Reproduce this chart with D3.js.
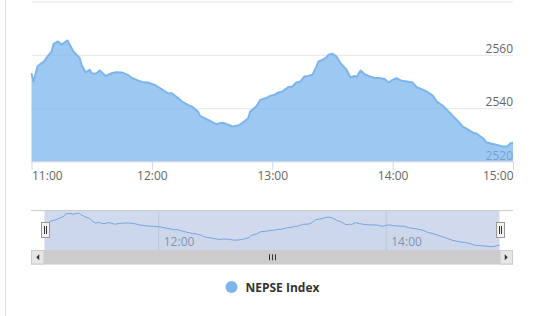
<!DOCTYPE html>
<html>
<head>
<meta charset="utf-8">
<script src="https://cdn.jsdelivr.net/npm/d3@7/dist/d3.min.js"></script>
<style>
  body { margin: 0; background: #fff; }
  svg text { font-family: "Open Sans", sans-serif; }
</style>
</head>
<body>
<div id="chart"></div>
<script>
const seriesName = "NEPSE Index";

const times = [
  "11:00","11:01","11:03","11:05","11:06","11:08","11:10","11:11","11:13","11:14",
  "11:15","11:16","11:18","11:19","11:21","11:24","11:25","11:27","11:29","11:30",
  "11:32","11:34","11:37","11:40","11:42","11:45","11:48","11:50","11:53","11:55",
  "11:58","12:00","12:02","12:05","12:08","12:10","12:13","12:15","12:18","12:20",
  "12:23","12:24","12:27","12:29","12:32","12:34","12:36","12:39","12:40","12:43",
  "12:45","12:48","12:49","12:52","12:54","12:57","12:59","13:01","13:03","13:05",
  "13:08","13:10","13:12","13:14","13:16","13:18","13:20","13:22","13:23","13:25",
  "13:27","13:28","13:30","13:32","13:34","13:37","13:39","13:41","13:42","13:44",
  "13:46","13:48","13:51","13:53","13:56","13:58","14:00","14:02","14:04","14:07",
  "14:10","14:12","14:15","14:17","14:20","14:22","14:25","14:27","14:30","14:32",
  "14:35","14:37","14:40","14:42","14:45","14:47","14:50","14:52","14:55","14:57",
  "14:59","15:00"
];

const values = [
  2553.1,2550.0,2555.6,2556.9,2557.3,2559.4,2561.2,2564.1,2565.0,2564.6,
  2563.8,2564.4,2565.4,2563.8,2561.2,2558.8,2556.2,2553.4,2554.4,2553.1,
  2552.9,2554.1,2552.1,2553.1,2553.5,2553.4,2552.5,2551.3,2550.4,2549.8,
  2549.6,2549.1,2548.5,2547.1,2545.6,2545.6,2543.8,2542.5,2541.2,2540.6,
  2538.7,2537.1,2536.0,2535.2,2534.0,2534.4,2534.4,2533.5,2533.1,2533.5,
  2534.4,2536.2,2538.7,2540.6,2543.1,2543.8,2544.6,2545.0,2545.9,2546.2,
  2547.9,2548.1,2549.6,2550.0,2551.9,2552.1,2552.5,2555.6,2557.5,2558.1,
  2559.1,2560.0,2560.4,2559.4,2556.9,2554.4,2551.5,2552.1,2551.6,2554.1,
  2552.8,2552.1,2551.3,2551.3,2550.9,2549.6,2550.6,2551.3,2550.4,2550.0,
  2549.6,2547.9,2546.9,2546.2,2544.7,2542.5,2540.9,2539.4,2537.1,2535.6,
  2533.1,2532.2,2530.8,2530.4,2528.7,2527.1,2526.6,2526.2,2525.6,2525.6,
  2526.9,2527.1
];

const xTickLabels = ["11:00","12:00","13:00","14:00","15:00"];
const yTicks = [2520, 2540, 2560, 2580];
const navTickLabels = ["12:00","14:00"];

const parseTime = d3.timeParse("%H:%M");
const fmt = d3.timeFormat("%H:%M");
const data = times.map((t, i) => ({ t: parseTime(t), v: values[i] }));

const W = 535, H = 316;
const plot = { left: 31.5, right: 513, top: 1.5, bottom: 161.5 };
const nav = { left: 31, right: 513, top: 210.5, bottom: 250, maskL: 44.5, maskR: 499.5 };
const blue = "#7cb5ec";

const svg = d3.select("#chart").append("svg")
  .attr("width", W)
  .attr("height", H);

// page border on the left
svg.append("line")
  .attr("x1", 5.5).attr("x2", 5.5).attr("y1", 0).attr("y2", H)
  .attr("stroke", "#dddddd");

const x = d3.scaleTime()
  .domain([parseTime(xTickLabels[0]), parseTime(xTickLabels[xTickLabels.length - 1])])
  .range([plot.left, plot.right]);

const y = d3.scaleLinear()
  .domain([yTicks[0], yTicks[yTicks.length - 1]])
  .range([plot.bottom, plot.top]);

// y grid + labels
const yAxis = svg.append("g")
  .attr("transform", "translate(" + plot.right + ",0)")
  .call(d3.axisRight(y).tickValues(yTicks).tickSize(-(plot.right - plot.left)).tickFormat(d3.format("d")));
yAxis.select(".domain").remove();
yAxis.selectAll(".tick line").attr("stroke", "#e6e6e6");
yAxis.selectAll(".tick text")
  .attr("x", 0).attr("dy", "-2.5")
  .attr("text-anchor", "end")
  .attr("fill", "#666").attr("font-size", 12)
  .style("display", d => d === yTicks[yTicks.length - 1] ? "none" : null);

// area series
const area = d3.area()
  .x(d => x(d.t))
  .y0(plot.bottom)
  .y1(d => y(d.v));
const line = d3.line()
  .x(d => x(d.t))
  .y(d => y(d.v));

svg.append("path").datum(data)
  .attr("d", area)
  .attr("fill", blue).attr("fill-opacity", 0.75);
svg.append("path").datum(data)
  .attr("d", line)
  .attr("fill", "none").attr("stroke", blue)
  .attr("stroke-width", 2).attr("stroke-linejoin", "round");

// x axis
const xAxis = svg.append("g")
  .attr("transform", "translate(0," + plot.bottom + ")")
  .call(d3.axisBottom(x).tickValues(xTickLabels.map(parseTime)).tickSize(8.5).tickFormat(fmt));
xAxis.select(".domain").attr("stroke", "#ccd6eb").attr("d", "M" + plot.left + ",0H" + plot.right);
xAxis.selectAll(".tick line").attr("stroke", "#ccd6eb");
xAxis.selectAll(".tick text")
  .attr("y", 18.5).attr("dy", 0)
  .attr("fill", "#666").attr("font-size", 12)
  .attr("text-anchor", (d, i) => i === 0 ? "start" : (i === xTickLabels.length - 1 ? "end" : "middle"));

// navigator
const nx = d3.scaleTime()
  .domain(x.domain())
  .range([nav.maskL, nav.maskR]);
const ny = d3.scaleLinear()
  .domain(d3.extent(values))
  .range([246.5, 213]);

const navAxis = svg.append("g")
  .attr("transform", "translate(0," + nav.top + ")")
  .call(d3.axisBottom(nx).tickValues(navTickLabels.map(parseTime)).tickSize(nav.bottom - nav.top).tickFormat(fmt));
navAxis.select(".domain").remove();
navAxis.selectAll(".tick line").attr("stroke", "#e6e6e6");
navAxis.selectAll(".tick text")
  .attr("x", 5).attr("y", 35.5).attr("dy", 0)
  .attr("text-anchor", "start")
  .attr("fill", "#999").attr("font-size", 12);

const navArea = d3.area().x(d => nx(d.t)).y0(nav.bottom).y1(d => ny(d.v));
const navLine = d3.line().x(d => nx(d.t)).y(d => ny(d.v));
svg.append("path").datum(data).attr("d", navArea).attr("fill", blue).attr("fill-opacity", 0.05);
svg.append("path").datum(data).attr("d", navLine)
  .attr("fill", "none").attr("stroke", blue).attr("stroke-width", 1);

// selected range mask
svg.append("rect")
  .attr("x", nav.maskL).attr("y", nav.top)
  .attr("width", nav.maskR - nav.maskL).attr("height", nav.bottom - nav.top)
  .attr("fill", "rgb(102,133,194)").attr("fill-opacity", 0.3);

// outline
svg.append("path")
  .attr("d", "M" + nav.left + "," + nav.top + "H" + nav.right)
  .attr("stroke", "#cccccc").attr("fill", "none");

// scrollbar
const sbTop = 250, sbH = 14.5;
svg.append("rect")
  .attr("x", nav.left).attr("y", sbTop).attr("width", nav.right - nav.left).attr("height", sbH)
  .attr("fill", "#cccccc");
[[nav.left, -1], [nav.maskR, 1]].forEach(function(b) {
  const bx = b[0], w = nav.maskL - nav.left;
  svg.append("rect")
    .attr("x", bx + 0.5).attr("y", sbTop + 0.5).attr("width", w - 1).attr("height", sbH - 1)
    .attr("fill", "#e6e6e6").attr("stroke", "#cccccc");
  const cx = bx + w / 2, cy = sbTop + sbH / 2;
  svg.append("path")
    .attr("d", "M" + (cx + b[1] * 1.5) + "," + cy + "L" + (cx - b[1] * 1.5) + "," + (cy - 3) + "L" + (cx - b[1] * 1.5) + "," + (cy + 3) + "Z")
    .attr("fill", "#333");
});
const rx = Math.round((nav.maskL + nav.maskR) / 2) + 0.5, ry = sbTop + sbH / 2;
svg.append("path")
  .attr("d", [-3, 0, 3].map(o => "M" + (rx + o) + "," + (ry - 3) + "V" + (ry + 3)).join(""))
  .attr("stroke", "#333").attr("stroke-width", 1);

// handles
[nav.maskL, nav.maskR].forEach(function(hx) {
  const cx = Math.round(hx) + 0.5;
  svg.append("rect")
    .attr("x", cx - 4).attr("y", 222.5).attr("width", 8).attr("height", 15)
    .attr("fill", "#f2f2f2").attr("stroke", "#999999");
  svg.append("path")
    .attr("d", "M" + (cx - 1) + ",226V234M" + (cx + 1) + ",226V234")
    .attr("stroke", "#333").attr("stroke-width", 1);
});

// legend
const legend = svg.append("g");
legend.append("circle")
  .attr("cx", 231.5).attr("cy", 287).attr("r", 6)
  .attr("fill", blue);
legend.append("text")
  .attr("x", 245.5).attr("y", 292)
  .attr("font-size", 12).attr("font-weight", "bold")
  .attr("fill", "#333333")
  .text(seriesName);
</script>
</body>
</html>
